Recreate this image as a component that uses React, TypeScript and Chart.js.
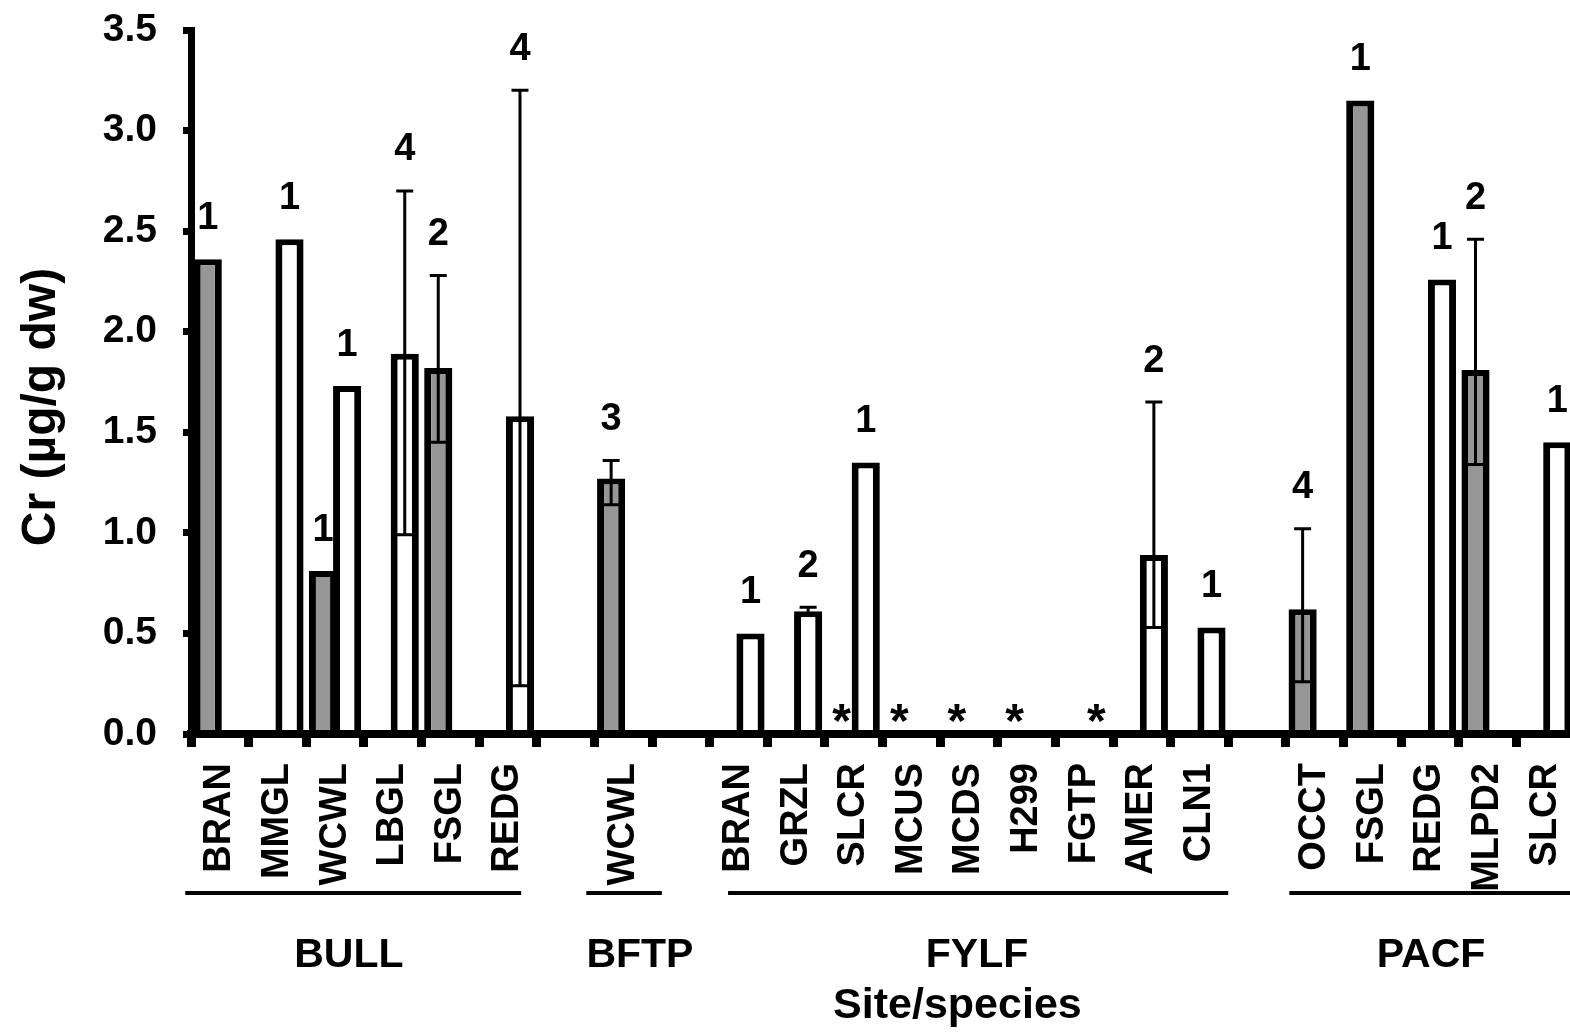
import { useEffect, useRef } from 'react';
import { Chart, registerables } from 'chart.js';

Chart.register(...registerables);

const FONT = "'Liberation Sans', Arial, Helvetica, sans-serif";

// Site/species categories along the x axis (blank entries separate the sites)
const categories = [
  'BRAN', 'MMGL', 'WCWL', 'LBGL', 'FSGL', 'REDG', '',
  'WCWL', '',
  'BRAN', 'GRZL', 'SLCR', 'MCUS', 'MCDS', 'H299', 'FGTP', 'AMER', 'CLN1', '',
  'OCCT', 'FSGL', 'REDG', 'MLPD2', 'SLCR',
];

// Mean Cr (µg/g dw), grey bars
const grayValues = [
  2.36, null, 0.81, null, 1.82, null, null,
  1.27, null,
  null, null, null, null, null, null, null, null, null, null,
  0.62, 3.15, null, 1.81, null,
];

// Mean Cr (µg/g dw), white bars
const whiteValues = [
  null, 2.46, 1.73, 1.89, null, 1.58, null,
  null, null,
  0.5, 0.61, 1.35, null, null, null, null, 0.89, 0.53, null,
  null, null, 2.26, null, 1.45,
];

// Error bar bounds, grey bars
const grayLow = [
  null, null, null, null, 1.45, null, null,
  1.14, null,
  null, null, null, null, null, null, null, null, null, null,
  0.26, null, null, 1.34, null,
];
const grayHigh = [
  null, null, null, null, 2.28, null, null,
  1.36, null,
  null, null, null, null, null, null, null, null, null, null,
  1.02, null, null, 2.46, null,
];

// Error bar bounds, white bars
const whiteLow = [
  null, null, null, 0.99, null, 0.24, null,
  null, null,
  null, 0.59, null, null, null, null, null, 0.53, null, null,
  null, null, null, null, null,
];
const whiteHigh = [
  null, null, null, 2.7, null, 3.2, null,
  null, null,
  null, 0.63, null, null, null, null, null, 1.65, null, null,
  null, null, null, null, null,
];

// Sample sizes printed above each bar
const grayN = [
  1, null, 1, null, 2, null, null,
  3, null,
  null, null, null, null, null, null, null, null, null, null,
  4, 1, null, 2, null,
];
const whiteN = [
  null, 1, 1, 4, null, 4, null,
  null, null,
  1, 2, 1, null, null, null, null, 2, 1, null,
  null, null, 1, null, 1,
];

// Not detected (marked with an asterisk on the baseline)
const grayND = [
  false, false, false, false, false, false, false,
  false, false,
  false, false, true, true, true, true, false, false, false, false,
  false, false, false, false, false,
];
const whiteND = [
  false, false, false, false, false, false, false,
  false, false,
  false, false, false, false, false, false, true, false, false, false,
  false, false, false, false, false,
];

// Site groups under the category labels (spans and label centres in category units)
const groupNames = ['BULL', 'BFTP', 'FYLF', 'PACF'];
const groupSpans = [
  [-0.6, 5.23],
  [6.36, 7.67],
  [8.82, 17.5],
  [18.56, 24.5],
];
const groupLabelAt = [2.24, 7.29, 13.14, 21.02];

const yTitle = 'Cr (µg/g dw)';
const xTitle = 'Site/species';

const barAnnotations = {
  id: 'barAnnotations',
  afterDatasetsDraw(chart: any) {
    const { ctx } = chart;
    const yScale = chart.scales.y;
    const zero = yScale.getPixelForValue(0);
    const series = [
      { idx: 0, values: grayValues, low: grayLow, high: grayHigh, n: grayN, nd: grayND },
      { idx: 1, values: whiteValues, low: whiteLow, high: whiteHigh, n: whiteN, nd: whiteND },
    ];
    ctx.save();
    ctx.fillStyle = '#000';
    ctx.strokeStyle = '#000';
    for (const s of series) {
      const meta = chart.getDatasetMeta(s.idx);
      meta.data.forEach((bar: any, i: number) => {
        const cx = bar.x;
        let top = s.values[i] != null ? yScale.getPixelForValue(s.values[i]) : zero;
        const lo = s.low[i];
        const hi = s.high[i];
        if (lo != null && hi != null) {
          const yl = yScale.getPixelForValue(lo);
          const yh = yScale.getPixelForValue(hi);
          ctx.lineWidth = 3;
          ctx.beginPath();
          ctx.moveTo(cx, yl);
          ctx.lineTo(cx, yh);
          ctx.moveTo(cx - 8.5, yl);
          ctx.lineTo(cx + 8.5, yl);
          ctx.moveTo(cx - 8.5, yh);
          ctx.lineTo(cx + 8.5, yh);
          ctx.stroke();
          top = Math.min(top, yh);
        }
        if (s.n[i] != null) {
          ctx.font = `bold 38px ${FONT}`;
          ctx.textAlign = 'center';
          ctx.textBaseline = 'middle';
          ctx.fillText(String(s.n[i]), cx, top - 41);
        }
        if (s.nd[i]) {
          ctx.font = `bold 48px ${FONT}`;
          ctx.textAlign = 'center';
          ctx.textBaseline = 'alphabetic';
          ctx.fillText('*', cx, zero + 3);
        }
      });
    }
    ctx.restore();
  },
  afterDraw(chart: any) {
    const { ctx, chartArea } = chart;
    const xScale = chart.scales.x;
    const first = xScale.getPixelForValue(0);
    const step = xScale.getPixelForValue(1) - first;
    const at = (u: number) => first + u * step;
    ctx.save();
    ctx.fillStyle = '#000';
    ctx.strokeStyle = '#000';

    // group underlines and names
    ctx.lineWidth = 4;
    groupNames.forEach((name, g) => {
      const [a, b] = groupSpans[g];
      ctx.beginPath();
      ctx.moveTo(at(a), 893);
      ctx.lineTo(at(b), 893);
      ctx.stroke();
      ctx.font = `bold 41px ${FONT}`;
      ctx.textAlign = 'center';
      ctx.textBaseline = 'middle';
      ctx.fillText(name, at(groupLabelAt[g]), 956);
    });

    // x axis title
    ctx.font = `bold 43px ${FONT}`;
    ctx.textAlign = 'center';
    ctx.textBaseline = 'middle';
    ctx.fillText(xTitle, at(12.8), 1006);

    // y axis title
    ctx.save();
    ctx.translate(chartArea.left - 149, 407);
    ctx.rotate(-Math.PI / 2);
    ctx.font = `bold 48px ${FONT}`;
    ctx.textAlign = 'center';
    ctx.textBaseline = 'middle';
    ctx.fillText(yTitle, 0, 0);
    ctx.restore();

    ctx.restore();
  },
};

export default function App() {
  const canvasRef = useRef<HTMLCanvasElement | null>(null);

  useEffect(() => {
    const canvas = canvasRef.current;
    if (!canvas) return;
    const barStyle = {
      borderColor: '#000000',
      borderWidth: { top: 6, left: 7, right: 7, bottom: 0 },
      borderSkipped: 'start' as const,
      categoryPercentage: 0.837,
      barPercentage: 1.167,
    };
    const chart = new Chart(canvas, {
      type: 'bar',
      data: {
        labels: categories,
        datasets: [
          { label: 'grey', data: grayValues, backgroundColor: '#969696', ...barStyle },
          { label: 'white', data: whiteValues, backgroundColor: '#ffffff', ...barStyle },
        ],
      },
      options: {
        responsive: false,
        animation: false,
        devicePixelRatio: 1,
        layout: { padding: { top: 30, right: 26, left: 0, bottom: 0 } },
        plugins: {
          legend: { display: false },
          tooltip: { enabled: false },
        },
        scales: {
          x: {
            offset: true,
            grid: {
              offset: true,
              drawOnChartArea: false,
              drawTicks: true,
              tickLength: 13,
              tickWidth: 9,
              tickColor: '#000',
              z: 1,
            },
            border: { display: true, color: '#000', width: 8, z: 1 },
            ticks: {
              autoSkip: false,
              minRotation: 90,
              maxRotation: 90,
              padding: 16,
              color: '#000',
              font: { family: FONT, size: 38, weight: 'bold' },
            },
            afterFit: (scale: any) => {
              scale.height = 300;
              scale.paddingLeft = 0;
              scale.paddingRight = 0;
            },
          },
          y: {
            min: 0,
            max: 3.5,
            ticks: {
              stepSize: 0.5,
              padding: 26,
              color: '#000',
              font: { family: FONT, size: 39, weight: 'bold' },
              callback: (v: any) => Number(v).toFixed(1),
            },
            grid: {
              drawOnChartArea: false,
              tickLength: 8,
              tickWidth: 7,
              tickColor: '#000',
              z: 1,
            },
            border: { display: true, color: '#000', width: 7, z: 1 },
            afterFit: (scale: any) => {
              scale.width = 191;
              scale.paddingTop = 0;
              scale.paddingBottom = 0;
            },
          },
        },
      },
      plugins: [barAnnotations],
    });
    return () => chart.destroy();
  }, []);

  return (
    <div
      style={{
        position: 'fixed',
        left: 0,
        top: 0,
        width: 1570,
        height: 1034,
        overflow: 'hidden',
        background: '#ffffff',
      }}
    >
      <canvas
        ref={canvasRef}
        width={1600}
        height={1034}
        style={{ display: 'block', width: 1600, height: 1034 }}
      />
    </div>
  );
}
